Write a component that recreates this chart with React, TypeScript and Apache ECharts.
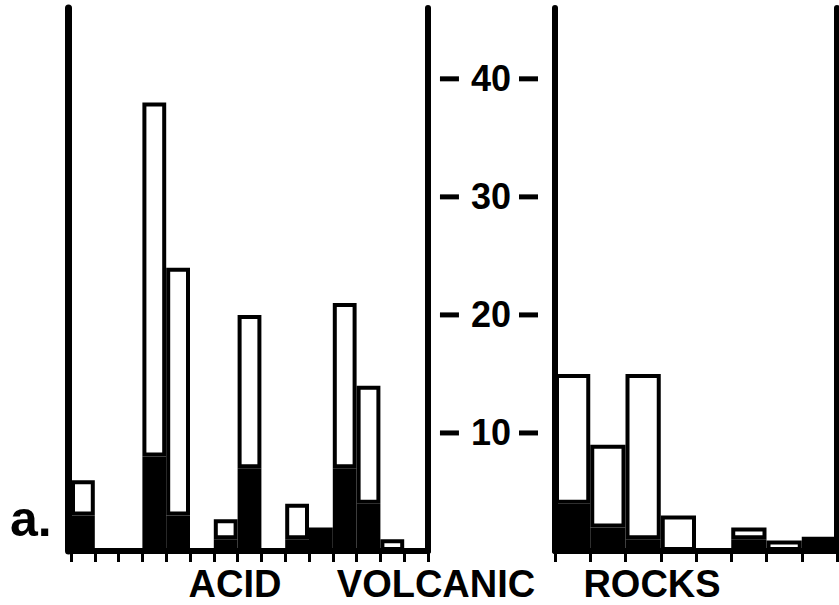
import React, { useEffect, useRef } from "react";
import * as echarts from "echarts";

// Left panel: 15 class bins; right panel: 8 class bins
const leftBins = ["1", "2", "3", "4", "5", "6", "7", "8", "9", "10", "11", "12", "13", "14", "15"];
const leftTotal = [6, 0, 0, 38, 24, 0, 2.7, 20, 0, 4, 2, 21, 14, 1, 0];
const leftBlack = [3, 0, 0, 8, 3, 0, 1, 7, 0, 1, 2, 7, 4, 0, 0];

const rightBins = ["1", "2", "3", "4", "5", "6", "7", "8"];
const rightTotal = [15, 9, 15, 3, 0, 2, 0.9, 1.2];
const rightBlack = [4, 2, 1, 0, 0, 1, 0, 1.2];

const tickLabels = [10, 20, 30, 40];
const titleWords = ["ACID", "VOLCANIC", "ROCKS"];
const panelLabel = "a.";

const FONT = "'Liberation Sans', Arial, Helvetica, sans-serif";

export default function App() {
  const ref = useRef<HTMLDivElement>(null);

  useEffect(() => {
    if (!ref.current) return;
    const chart = echarts.init(ref.current, undefined, { renderer: "svg" });

    const white = (tot: number[], blk: number[]) =>
      tot.map((t, i) => {
        const w = t - blk[i];
        return w > 0 ? +w.toFixed(2) : "-";
      });
    const black = (blk: number[]) => blk.map((b) => (b > 0 ? b : "-"));

    const yBase = {
      type: "value",
      min: 0,
      max: 46,
      interval: 10,
      splitLine: { show: false },
      axisTick: { show: false },
      axisLabel: { show: false },
      axisLine: { show: true, lineStyle: { color: "#000", width: 6 } },
    };

    const xBase = {
      type: "category",
      boundaryGap: true,
      axisLine: { show: true, lineStyle: { color: "#000", width: 6 } },
      axisTick: { show: true, interval: 0, length: 11, lineStyle: { color: "#000", width: 3 } },
      axisLabel: { show: false },
      splitLine: { show: false },
    };

    const barBase = {
      type: "bar",
      barCategoryGap: "0%",
      barGap: "0%",
    };

    const titleStyle = {
      fontSize: 38,
      fontWeight: "bold",
      fontFamily: FONT,
      fill: "#000",
      align: "center",
      verticalAlign: "middle",
    };

    chart.setOption({
      animation: false,
      backgroundColor: "#fff",
      grid: [
        { left: 71, top: 8, width: 357, height: 543 },
        { left: 555, top: 8, width: 282, height: 543 },
      ],
      xAxis: [
        { ...xBase, gridIndex: 0, data: leftBins },
        { ...xBase, gridIndex: 1, data: rightBins },
      ],
      yAxis: [
        { ...yBase, gridIndex: 0, position: "left", offset: 3, axisLine: { show: true, lineStyle: { color: "#000", width: 7 } } },
        { ...yBase, gridIndex: 0, position: "right" },
        {
          ...yBase,
          gridIndex: 1,
          position: "left",
          axisLabel: {
            show: true,
            margin: 17,
            formatter: (v: number) =>
              tickLabels.includes(v) ? `{d| }{g1| }{n|${v}}{g2| }{d| }` : "",
            rich: {
              d: { width: 19, height: 5, backgroundColor: "#000" },
              g1: { width: 12 },
              g2: { width: 8 },
              n: { fontSize: 36, fontWeight: "bold", fontFamily: FONT, color: "#000" },
            },
          },
        },
        { ...yBase, gridIndex: 1, position: "right" },
      ],
      series: [
        {
          ...barBase,
          name: "left-black",
          xAxisIndex: 0,
          yAxisIndex: 0,
          stack: "L",
          data: black(leftBlack),
          itemStyle: { color: "#000", borderColor: "#000", borderWidth: 4 },
        },
        {
          ...barBase,
          name: "left-white",
          xAxisIndex: 0,
          yAxisIndex: 0,
          stack: "L",
          data: white(leftTotal, leftBlack),
          itemStyle: { color: "#fff", borderColor: "#000", borderWidth: 4 },
        },
        {
          ...barBase,
          name: "right-black",
          xAxisIndex: 1,
          yAxisIndex: 2,
          stack: "R",
          data: black(rightBlack),
          itemStyle: { color: "#000", borderColor: "#000", borderWidth: 4 },
        },
        {
          ...barBase,
          name: "right-white",
          xAxisIndex: 1,
          yAxisIndex: 2,
          stack: "R",
          data: white(rightTotal, rightBlack),
          itemStyle: { color: "#fff", borderColor: "#000", borderWidth: 4 },
        },
      ],
      graphic: [
        {
          type: "text",
          left: 10,
          top: 494,
          style: { text: panelLabel, fontSize: 50, fontWeight: "bold", fontFamily: FONT, fill: "#000" },
        },
        { type: "text", x: 235, y: 584, style: { ...titleStyle, text: titleWords[0] } },
        { type: "text", x: 436, y: 584, style: { ...titleStyle, text: titleWords[1] } },
        { type: "text", x: 652, y: 584, style: { ...titleStyle, text: titleWords[2] } },
      ],
    });

    return () => chart.dispose();
  }, []);

  return (
    <div
      ref={ref}
      style={{ position: "absolute", left: 0, top: 0, width: 839, height: 605 }}
    />
  );
}
